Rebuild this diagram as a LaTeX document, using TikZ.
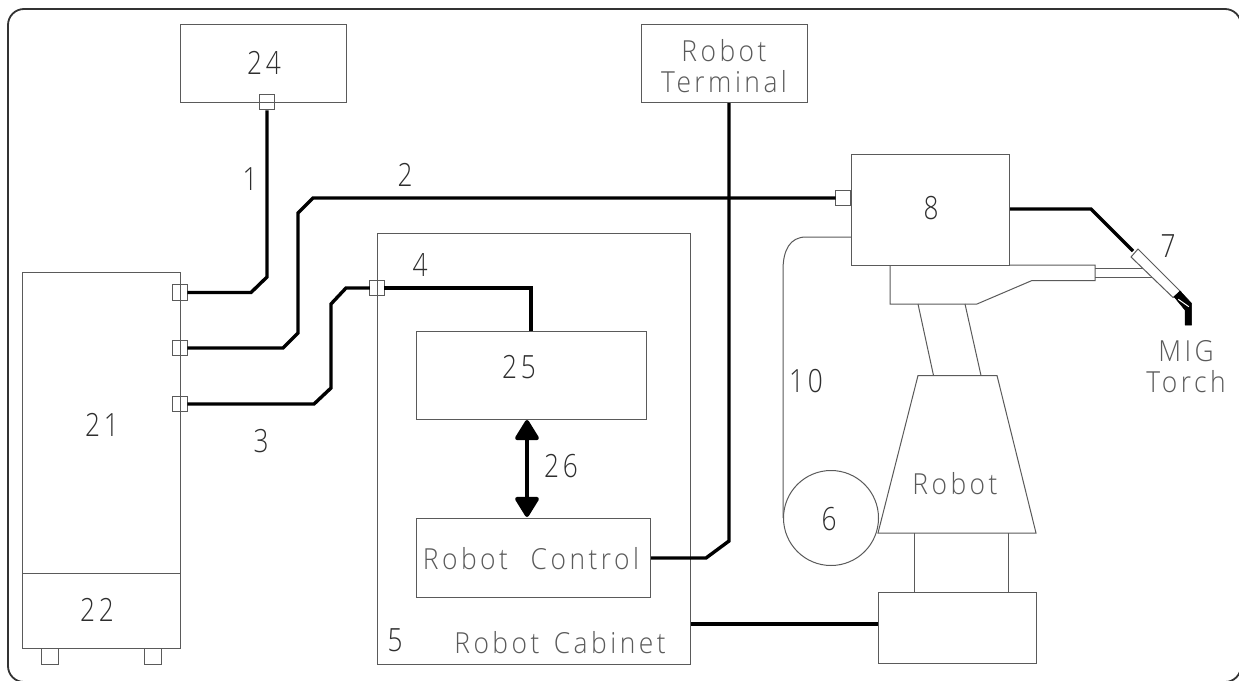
\documentclass[tikz,border=0pt]{standalone}
\usepackage{fontspec}
\setmainfont[LetterSpace=12,FakeStretch=0.91]{Open Sans Light}
\newfontfamily\digitfont[LetterSpace=12,FakeStretch=0.82]{Open Sans Light}
\usetikzlibrary{arrows.meta}
\definecolor{ln}{HTML}{5A5A5A}
\definecolor{tx}{HTML}{2E2E2E}
\tikzset{
  thinbox/.style={draw=ln,line width=1pt,rectangle,inner sep=0pt,anchor=north west},
  port/.style={draw=ln,line width=1pt,rectangle,inner sep=0pt,minimum width=15.5pt,minimum height=15.5pt},
  thinline/.style={draw=ln,line width=1pt},
  cable/.style={draw=black,line width=3.4pt,line join=miter},
  lbl/.style={text=tx,inner sep=0pt,font=\digitfont\fontsize{32}{34}\selectfont},
  wordlbl/.style={text=ln,inner sep=0pt,align=center,font=\fontsize{29}{31}\selectfont},
}
\begin{document}
\begin{tikzpicture}[x=1pt,y=-1pt]
\useasboundingbox (0,0) rectangle (1239,680);
\fill[white] (0,0) rectangle (1239,680);
\begin{scope}
\clip (0,0) rectangle (1239,680);
\draw[line width=1.8pt,draw=black!80,rounded corners=16pt] (8,9) rectangle (1241,682);
\end{scope}
% boxes
\node[thinbox,minimum width=166pt,minimum height=78pt] (b24) at (180,24) {};
\node[thinbox,minimum width=166pt,minimum height=78pt] (term) at (641,24) {};
\node[thinbox,minimum width=158pt,minimum height=301pt] (b21) at (22,272) {};
\node[thinbox,minimum width=158pt,minimum height=75pt] (b22) at (22,573) {};
\node[thinbox,minimum width=17pt,minimum height=16pt] (foota) at (41,648) {};
\node[thinbox,minimum width=17pt,minimum height=16pt] (footb) at (144,648) {};
\node[thinbox,minimum width=313pt,minimum height=431pt] (cab) at (377,233) {};
\node[thinbox,minimum width=230pt,minimum height=88pt] (b25) at (416,331) {};
\node[thinbox,minimum width=234pt,minimum height=79pt] (ctrl) at (416,518) {};
\node[thinbox,minimum width=158pt,minimum height=111pt] (b8) at (851,154) {};
\node[thinbox,minimum width=158pt,minimum height=71pt] (base) at (878,592) {};
\node[draw=ln,line width=1pt,circle,inner sep=0pt,minimum size=95pt] (spool) at (831,518) {};
% ports
\node[port] (p24) at (267,102) {};
\node[port] (p1) at (180,292.5) {};
\node[port] (p2) at (180,348) {};
\node[port] (p3) at (180,404) {};
\node[port] (p4) at (377,288) {};
\node[port,anchor=east] (p8) at (b8.west |- 0,198) {};
% robot body
\coordinate (robBL) at (878,533);
\coordinate (robBR) at (1036,533);
\draw[thinline] (robBL) -- (918,375.5) -- (997,375.5) -- (robBR) -- cycle;
\draw[thinline] (914,533) -- (914,592);
\draw[thinline] (1008,533) -- (1008,592);
\draw[thinline] (918,304) -- (933.5,375.5);
\draw[thinline] (965,304) -- (981,375.5);
\draw[thinline] (890,265) -- (890,304) -- (977,304) -- (1032,280.5) -- (1095,280.5) -- (1095,265) -- (1009,265);
\draw[thinline] (1095,268.5) -- (1147,268.5);
\draw[thinline] (1095,277) -- (1155,277);
% torch
\draw[thinline,fill=white] (1131,257) -- (1138,249) -- (1181,292) -- (1173,297.5) -- cycle;
\fill[black,draw=black,line width=.5pt,line join=round] (1174,296.7) -- (1180,291) -- (1191.5,303.3) -- (1191.5,325) -- (1185,325) -- (1185,310) -- cycle;
\draw[white,line width=1pt] (1178.3,299.3) -- (1188.8,306.7);
% hose
\draw[thinline] (b8.west |- 0,237) -- (806,237) .. controls (790,237) and (783,250) .. (783,270) -- (783,518);
% cables
\draw[cable] (p24.south) -- (267,277) -- (251,292.5) -- ([xshift=-1pt]p1.east);
\draw[cable] ([xshift=-1pt]p2.east) -- (283,348) -- (298,333) -- (298,213) -- (313,198) -- ([xshift=1pt]p8.west);
\draw[cable] ([xshift=-1pt]p3.east) -- (314,404) -- (331,388) -- (331,304) -- (346,288) -- ([xshift=1pt]p4.west);
\draw[cable] ([xshift=-1pt]p4.east) -- (531,288) -- (b25.north -| 531,0);
\draw[cable] (term.south -| 729,0) -- (729,541) -- (706,558) -- (ctrl.east |- 0,558);
\draw[cable] (cab.east |- 0,624) -- (base.west |- 0,624);
\draw[cable] (b8.east |- 0,209) -- (1091,209) -- (1133,251);
\draw[line width=4pt,black,{Triangle[length=22pt,width=26pt,round]}-{Triangle[length=22pt,width=26pt,round]}] (527,420) -- (527,517);
% labels
\node[lbl] (l24) at (264,63) {24};
\node[lbl] (l1) at (250,179) {1};
\node[lbl] (l2) at (405,175) {2};
\node[lbl] (l3) at (261,441) {3};
\node[lbl] (l4) at (420,265) {4};
\node[lbl] (l5) at (395,640) {5};
\node[lbl] (l25) at (519,367) {25};
\node[lbl] (l26) at (561,466) {26};
\node[lbl] (l21) at (102,425) {21};
\node[lbl] (l22) at (97,610) {22};
\node[lbl] (l8) at (931,208) {8};
\node[lbl] (l7) at (1168,246) {7};
\node[lbl] (l10) at (806,381) {10};
\node[lbl] (l6) at (829,519) {6};
\node[wordlbl] (wterm) at (724,66) {Robot\\Terminal};
\node[wordlbl] (wctrl) at (531,559) {Robot\ \ \kern2pt Control};
\node[wordlbl] (wcab) at (560,643) {Robot\ \kern4pt Cabinet};
\node[wordlbl] (wrob) at (955,484) {Robot};
\node[wordlbl] (wmig) at (1186,367) {MIG\\Torch};
\end{tikzpicture}
\end{document}
